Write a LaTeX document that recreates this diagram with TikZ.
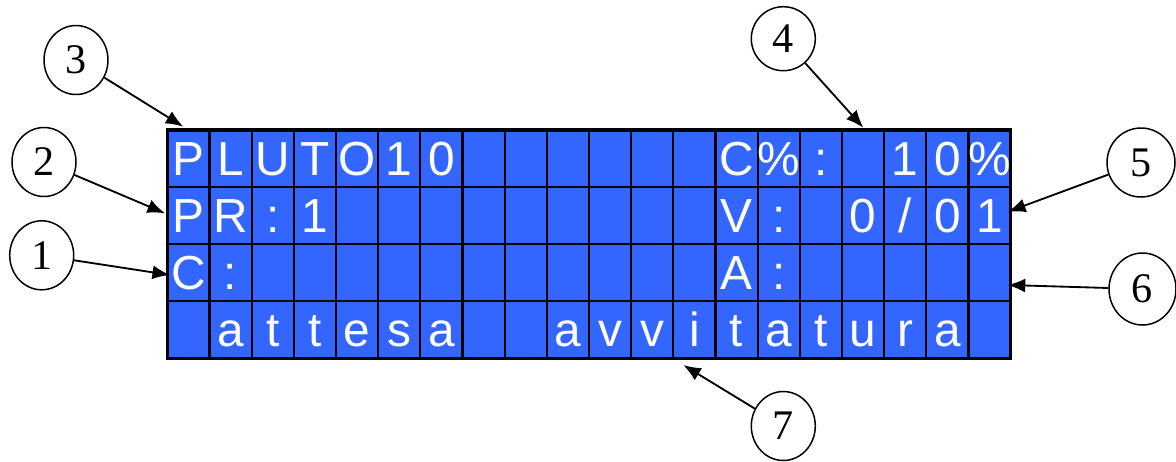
\documentclass[tikz,border=0pt]{standalone}
\usepackage{fontspec}
\setmainfont{Liberation Serif}
\setsansfont{Liberation Sans}
\usetikzlibrary{shapes,arrows.meta,positioning,calc}
\definecolor{lcdblue}{RGB}{51,102,255}

\begin{document}
\begin{tikzpicture}[x=0.02cm, y=-0.02cm,
    glyph/.style={anchor=base, text=white, inner sep=0pt, font=\sffamily\fontsize{27.2}{30}\selectfont},
    callout/.style={ellipse, draw, line width=0.85pt, inner sep=0pt, minimum width=1.28cm, minimum height=1.38cm, font=\fontsize{24}{26}\selectfont},
    pointer/.style={-{Latex[length=10pt,width=8pt]}, line width=1.05pt}]
    \useasboundingbox (0,0) rectangle (1176,461);
    \fill[lcdblue] (167.3,130) rectangle (1010.7,358.4);
    \foreach \c in {1,...,19}
        \draw[line width=1.25pt] ({167.3+42.17*\c},130) -- ({167.3+42.17*\c},358.4);
    \foreach \r in {1,2,3}
        \draw[line width=1.25pt] (167.3,{130+57.1*\r}) -- (1010.7,{130+57.1*\r});
    \draw[line width=1.8pt] (167.3,130) rectangle (1010.7,358.4);
    \foreach \c/\ch in {1/P,2/L,3/U,4/T,5/O,6/1,7/0,14/C,15/\%,16/:,18/1,19/0,20/\%}
        \node[glyph] (r1-\c) at ({167.3+42.17*(\c-0.5)},{130+57.1-11.5}) {\ch};
    \foreach \c/\ch in {1/P,2/R,3/:,4/1,14/V,15/:,17/0,18/{/},19/0,20/1}
        \node[glyph] (r2-\c) at ({167.3+42.17*(\c-0.5)},{130+57.1*2-11.5}) {\ch};
    \foreach \c/\ch in {1/C,2/:,14/A,15/:}
        \node[glyph] (r3-\c) at ({167.3+42.17*(\c-0.5)},{130+57.1*3-11.5}) {\ch};
    \foreach \c/\ch in {2/a,3/t,4/t,5/e,6/s,7/a,10/a,11/v,12/v,13/i,14/t,15/a,16/t,17/u,18/r,19/a}
        \node[glyph] (r4-\c) at ({167.3+42.17*(\c-0.5)},{130+57.1*4-11.5}) {\ch};

    \node[callout] (n3) at (76,60) {3};
    \node[callout] (n2) at (44,162) {2};
    \node[callout] (n1) at (41.7,255.3) {1};
    \node[callout, minimum height=1.28cm] (n4) at (783.3,38.7) {4};
    \node[callout, minimum width=1.36cm] (n5) at (1141,162.5) {5};
    \node[callout, minimum width=1.34cm, minimum height=1.44cm] (n6) at (1142.5,289) {6};
    \node[callout] (n7) at (783.3,426) {7};

    \coordinate (t3) at (183.3,126.7);
    \coordinate (t2) at (165,213.3);
    \coordinate (t1) at (170,275);
    \coordinate (t4) at (863.3,127.7);
    \coordinate (t5) at (1008,211.7);
    \coordinate (t6) at (1007.7,285);
    \coordinate (t7) at (683.3,365);
    \foreach \k in {1,...,7}
        \draw[pointer] (n\k) -- (t\k);
\end{tikzpicture}
\end{document}
